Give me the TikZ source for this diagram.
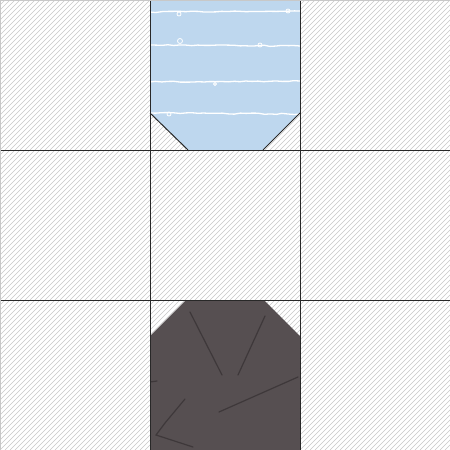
\documentclass[tikz,border=0pt]{standalone}
\usetikzlibrary{decorations.pathmorphing}
\definecolor{hatch}{RGB}{200,200,200}
\definecolor{skyfab}{RGB}{190,215,238}
\definecolor{darkfab}{RGB}{86,79,81}
\definecolor{seam}{RGB}{62,56,58}
\definecolor{gridc}{RGB}{40,40,40}
\tikzset{
  hatchline/.style={hatch, line width=0.6pt},
  gridline/.style={gridc, line width=1pt},
  thread/.style={white, line width=1.3pt, decorate, decoration={random steps, segment length=6pt, amplitude=0.6pt}},
  knot/.style={white, line width=0.8pt},
  darkseam/.style={seam, line width=1.2pt, line cap=round},
}
\begin{document}
\begin{tikzpicture}[x=1pt,y=-1pt]
\useasboundingbox (0,0) rectangle (450,450);
\fill[white] (0,0) rectangle (450,450);
\begin{scope}
\clip (0,0) rectangle (450,450);
\foreach \c in {0,5,...,900} {
  \draw[hatchline] (\c,0) -- (\c-450,450);
}
\end{scope}
% blue patch
\fill[skyfab] (150,0) -- (300,0) -- (300,113) -- (263,150) -- (188,150) -- (150,113) -- cycle;
\begin{scope}
\clip (150,0) -- (300,0) -- (300,113) -- (263,150) -- (188,150) -- (150,113) -- cycle;
\draw[thread] (150,12) -- (300,11);
\draw[thread] (150,45) -- (300,46);
\draw[thread] (150,82) -- (300,81);
\draw[thread] (150,113) -- (300,114);
\draw[knot] (179,14) circle (2pt);
\draw[knot] (180,41) circle (2.5pt);
\draw[knot] (260,45) circle (2pt);
\draw[knot] (288,11) circle (2pt);
\draw[knot] (215,84) circle (1.5pt);
\draw[knot] (169,114) circle (2pt);
\end{scope}
\draw[gridc, line width=1pt] (150,113) -- (188,150);
\draw[gridc, line width=1pt] (300,113) -- (263,150);
% dark patch
\fill[darkfab] (186,300) -- (264,300) -- (300,336) -- (300,450) -- (150,450) -- (150,336) -- cycle;
\begin{scope}
\clip (186,300) -- (264,300) -- (300,336) -- (300,450) -- (150,450) -- (150,336) -- cycle;
\draw[darkseam] (190,312) -- (222,375);
\draw[darkseam] (265,316) -- (238,375);
\draw[darkseam] (298,377) -- (219,412);
\draw[darkseam] (185,399) -- (165,423) -- (156,435) -- (193,447);
\draw[darkseam] (150,382) -- (157,381);
\end{scope}
% grid
\draw[gridline] (150,0) -- (150,450);
\draw[gridline] (300,0) -- (300,450);
\draw[gridline] (0,150) -- (450,150);
\draw[gridline] (0,300) -- (450,300);
\draw[hatch, line width=0.8pt] (0.4,0) -- (0.4,450);
\draw[hatch, line width=0.8pt] (0,0.4) -- (450,0.4);
\end{tikzpicture}
\end{document}
